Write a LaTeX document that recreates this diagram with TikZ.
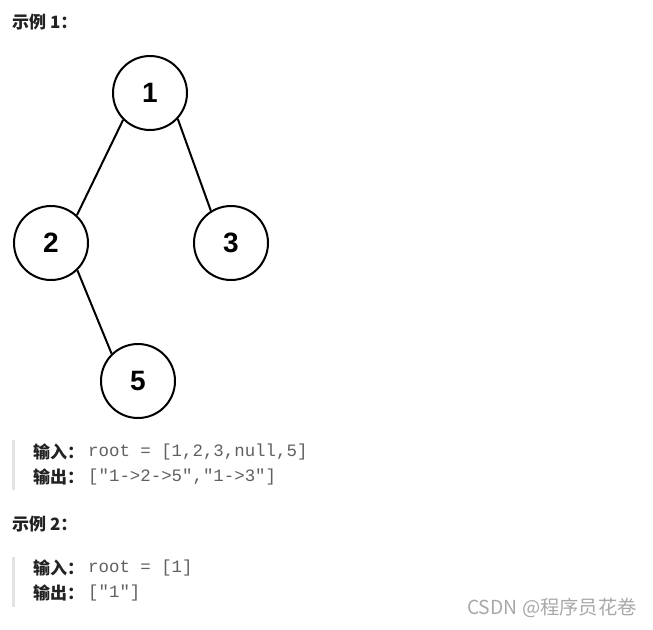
\documentclass[tikz,border=0pt]{standalone}
\usepackage{fontspec}
\setmainfont{Liberation Sans}
\newfontfamily\cjk{Noto Sans CJK SC}
\newfontfamily\code{Liberation Mono}
\definecolor{textcol}{HTML}{222222}
\definecolor{codecol}{HTML}{606060}
\definecolor{barcol}{HTML}{E3E3E3}
\definecolor{markcol}{HTML}{A8A8A8}

\begin{document}
\begin{tikzpicture}[x=1pt,y=-1pt,
  tree/.style={circle,draw,line width=2pt,minimum size=74pt,inner sep=0pt,font=\fontsize{28}{28}\selectfont\bfseries},
  head/.style={anchor=west,inner sep=0pt,text=textcol,font=\cjk\fontsize{17}{17}\selectfont\bfseries},
  codetxt/.style={anchor=west,inner sep=0pt,text=codecol,font=\code\fontsize{17.4}{17.4}\selectfont}]
\useasboundingbox (0,0) rectangle (653,629);
% tree of example 1
\foreach \n/\x/\y in {1/150/93,2/51/243,3/231/243,5/138/381} {
  \node[tree] (n\n) at (\x,\y) {\n};
}
\foreach \a/\aa/\b/\bb in {1/225/2/47,1/317/3/122,2/314/5/134} {
  \draw[line width=2pt] (n\a.\aa) -- (n\b.\bb);
}
% quote bars
\fill[barcol] (12,440) rectangle (14.5,490);
\fill[barcol] (12,557) rectangle (14.5,607);
% texts
\node[head] (ex1) at (12,22) {示例 1：};
\node[head] (in1) at (33,452) {输入：};
\node[codetxt] (in1v) at (88,452) {root = [1,2,3,null,5]};
\node[head] (out1) at (33,477) {输出：};
\node[codetxt] (out1v) at (88,477) {["1->2->5","1->3"]};
\node[head] (ex2) at (12,524) {示例 2：};
\node[head] (in2) at (33,568) {输入：};
\node[codetxt] (in2v) at (88,568) {root = [1]};
\node[head] (out2) at (33,593) {输出：};
\node[codetxt] (out2v) at (88,593) {["1"]};
\node[anchor=east,inner sep=0pt,text=markcol,font=\cjk\fontsize{19.3}{19.3}\selectfont] (mark) at (637,608) {CSDN @程序员花卷};
\end{tikzpicture}
\end{document}
